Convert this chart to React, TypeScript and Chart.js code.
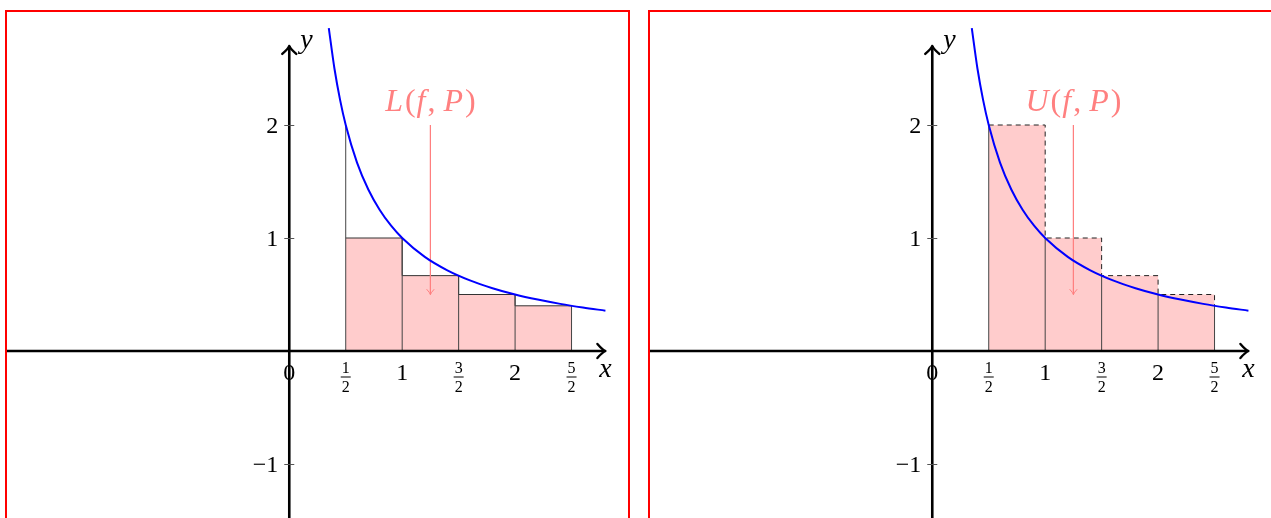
import { useEffect, useRef } from "react";
import { Chart, registerables } from "chart.js";
Chart.register(...registerables);

// ---- data ----
const partition = [0.5, 1, 1.5, 2, 2.5];
const fAtPartition = [2, 1, 0.667, 0.5, 0.4];
const lowerHeights = [1, 0.667, 0.5, 0.4];
const upperHeights = [2, 1, 0.667, 0.5];
const curveX = [0.35, 0.4, 0.45, 0.5, 0.6, 0.7, 0.8, 0.9, 1, 1.2, 1.4, 1.6, 1.8, 2, 2.2, 2.4, 2.6, 2.8];
const curveY = [2.857, 2.5, 2.222, 2, 1.667, 1.429, 1.25, 1.111, 1, 0.833, 0.714, 0.625, 0.556, 0.5, 0.455, 0.417, 0.385, 0.357];
const xTickValues = [0, 0.5, 1, 1.5, 2, 2.5];
const xTickLabels = ["0", "1/2", "1", "3/2", "2", "5/2"];
const yTickValues = [2, 1, -1];
const yTickLabels = ["2", "1", "\u22121"];
const xAxisRange = [-2.5, 2.8];
const yAxisRange = [-2, 2.7];
const annotationX = [1.25, 1.25];
const annotationY = [2, 0.5];
const sumLabels = { lower: "L", upper: "U" };

const PINK = "#ff8080";
const SERIF = '"Liberation Serif", "DejaVu Serif", serif';

type Kind = "lower" | "upper";

function pts(xs: number[], ys: number[]) {
  return xs.map((x, i) => ({ x, y: ys[i] }));
}

function stepData(heights: number[]) {
  const xs = partition.slice();
  const ys = heights.concat([heights[heights.length - 1]]);
  return pts(xs, ys);
}

function drawChevron(ctx: CanvasRenderingContext2D, x: number, y: number, dx: number, dy: number, back: number, half: number, lw: number, color: string) {
  const px = -dy, py = dx;
  const bx = x - dx * back, by = y - dy * back;
  ctx.save();
  ctx.strokeStyle = color;
  ctx.lineWidth = lw;
  ctx.lineCap = "round";
  ctx.lineJoin = "round";
  ctx.beginPath();
  ctx.moveTo(bx + px * half, by + py * half);
  ctx.quadraticCurveTo(x - dx * back * 0.35 + px * half * 0.15, y - dy * back * 0.35 + py * half * 0.15, x, y);
  ctx.quadraticCurveTo(x - dx * back * 0.35 - px * half * 0.15, y - dy * back * 0.35 - py * half * 0.15, bx - px * half, by - py * half);
  ctx.stroke();
  ctx.restore();
}

function makePlugin(kind: Kind) {
  return {
    id: "decor" + kind,
    afterDatasetsDraw(chart: any) {
      const ctx: CanvasRenderingContext2D = chart.ctx;
      const xs = chart.scales.x;
      const ys = chart.scales.y;
      const X = (v: number) => xs.getPixelForValue(v);
      const Y = (v: number) => ys.getPixelForValue(v);
      drawChevron(ctx, X(xAxisRange[1]), Y(0), 1, 0, 8, 7, 2.4, "#000");
      drawChevron(ctx, X(0), Y(yAxisRange[1]), 0, -1, 8, 7, 2.4, "#000");
      drawChevron(ctx, X(annotationX[1]), Y(annotationY[1]), 0, 1, 5, 3.5, 1, PINK);

      ctx.save();
      ctx.strokeStyle = "#555";
      ctx.lineWidth = 1;
      yTickValues.forEach((v) => {
        ctx.beginPath();
        ctx.moveTo(X(0) - 5, Math.round(Y(v)) + 0.5);
        ctx.lineTo(X(0) + 5, Math.round(Y(v)) + 0.5);
        ctx.stroke();
      });
      ctx.fillStyle = "#000";
      ctx.font = `24px ${SERIF}`;
      ctx.textAlign = "right";
      ctx.textBaseline = "alphabetic";
      yTickValues.forEach((v, i) => {
        ctx.fillText(yTickLabels[i], X(0) - 11, Y(v) + 8);
      });
      xTickValues.forEach((v, i) => {
        const lab = xTickLabels[i];
        const cx = X(v);
        const y0 = Y(0);
        ctx.textAlign = "center";
        if (lab.includes("/")) {
          const [n, d] = lab.split("/");
          ctx.font = `16px ${SERIF}`;
          ctx.fillText(n, cx, y0 + 22);
          ctx.fillText(d, cx, y0 + 41);
          ctx.fillRect(cx - 5, y0 + 25.5, 10, 1);
        } else {
          ctx.font = `24px ${SERIF}`;
          ctx.fillText(lab, cx, y0 + 29);
        }
      });
      ctx.font = `italic 28px ${SERIF}`;
      ctx.textAlign = "center";
      ctx.fillText("x", X(xAxisRange[1]), Y(0) + 26);
      ctx.textAlign = "left";
      ctx.fillText("y", X(0) + 11, Y(yAxisRange[1]) + 2);

      const pieces: [string, boolean][] = [[sumLabels[kind], true], ["(", false], ["f", true], [",", false], ["\u2005", false], ["P", true], [")", false]];
      const size = 32;
      const fontOf = (it: boolean) => `${it ? "italic " : ""}${size}px ${SERIF}`;
      let total = 0;
      const gaps = [2, 1, 2, 0, 0, 2, 0];
      const widths = pieces.map(([t, it], i) => {
        ctx.font = fontOf(it);
        const w = ctx.measureText(t).width + gaps[i];
        total += w;
        return w;
      });
      let sx = X(annotationX[0]) - total / 2;
      const by = Y(annotationY[0]) - 14;
      ctx.fillStyle = PINK;
      ctx.textAlign = "left";
      pieces.forEach(([t, it], i) => {
        ctx.font = fontOf(it);
        ctx.fillText(t, sx, by);
        sx += widths[i];
      });
      ctx.restore();
    },
  };
}

function buildConfig(kind: Kind): any {
  const heights = kind === "lower" ? lowerHeights : upperHeights;
  const fillData = stepData(heights);
  const datasets: any[] = [];
  datasets.push({
    data: fillData,
    stepped: true,
    borderWidth: 0,
    borderColor: "rgba(0,0,0,0)",
    backgroundColor: "#ffcccc",
    fill: "origin",
    pointRadius: 0,
    order: 10,
  });
  if (kind === "lower") {
    datasets.push({
      data: stepData(lowerHeights),
      stepped: true,
      borderWidth: 1,
      borderColor: "#333",
      fill: false,
      pointRadius: 0,
      order: 8,
    });
  } else {
    const d = stepData(upperHeights).concat([{ x: partition[partition.length - 1], y: fAtPartition[fAtPartition.length - 1] }]);
    datasets.push({
      data: d,
      stepped: true,
      borderWidth: 1,
      borderColor: "#222",
      borderDash: [5, 4],
      fill: false,
      pointRadius: 0,
      order: 8,
    });
  }
  partition.forEach((x, i) => {
    datasets.push({
      data: [{ x, y: 0 }, { x, y: fAtPartition[i] }],
      borderWidth: 1,
      borderColor: "#444",
      fill: false,
      pointRadius: 0,
      order: 7,
    });
  });
  datasets.push({
    data: pts(annotationX, annotationY),
    borderWidth: 1,
    borderColor: PINK,
    fill: false,
    pointRadius: 0,
    order: 5,
  });
  datasets.push({
    data: pts(curveX, curveY),
    borderWidth: 2,
    borderColor: "#0000ff",
    cubicInterpolationMode: "monotone",
    fill: false,
    pointRadius: 0,
    order: 3,
  });
  datasets.push({
    data: [{ x: xAxisRange[0], y: 0 }, { x: xAxisRange[1], y: 0 }],
    borderWidth: 2.6,
    borderColor: "#000",
    fill: false,
    pointRadius: 0,
    order: 1,
  });
  datasets.push({
    data: [{ x: 0, y: yAxisRange[0] }, { x: 0, y: yAxisRange[1] }],
    borderWidth: 2.6,
    borderColor: "#000",
    fill: false,
    pointRadius: 0,
    order: 1,
  });
  return {
    type: "line",
    data: { datasets },
    options: {
      animation: false,
      responsive: false,
      maintainAspectRatio: false,
      events: [],
      layout: { padding: 0 },
      plugins: { legend: { display: false }, tooltip: { enabled: false } },
      scales: {
        x: { type: "linear", min: -2.5, max: 3, display: false },
        y: { type: "linear", min: -2, max: 3, display: false },
      },
    },
    plugins: [makePlugin(kind)],
  };
}

function Panel({ kind, left }: { kind: Kind; left: number }) {
  const ref = useRef<HTMLCanvasElement>(null);
  useEffect(() => {
    const chart = new Chart(ref.current as HTMLCanvasElement, buildConfig(kind));
    return () => chart.destroy();
  }, [kind]);
  return (
    <div
      style={{
        position: "fixed",
        left,
        top: 10,
        width: 621,
        height: 565,
        border: "2px solid #ff0000",
        background: "#fff",
      }}
    >
      <canvas ref={ref} width={621} height={565} style={{ display: "block" }} />
    </div>
  );
}

export default function App() {
  return (
    <div>
      <Panel kind="lower" left={5} />
      <Panel kind="upper" left={648} />
    </div>
  );
}
